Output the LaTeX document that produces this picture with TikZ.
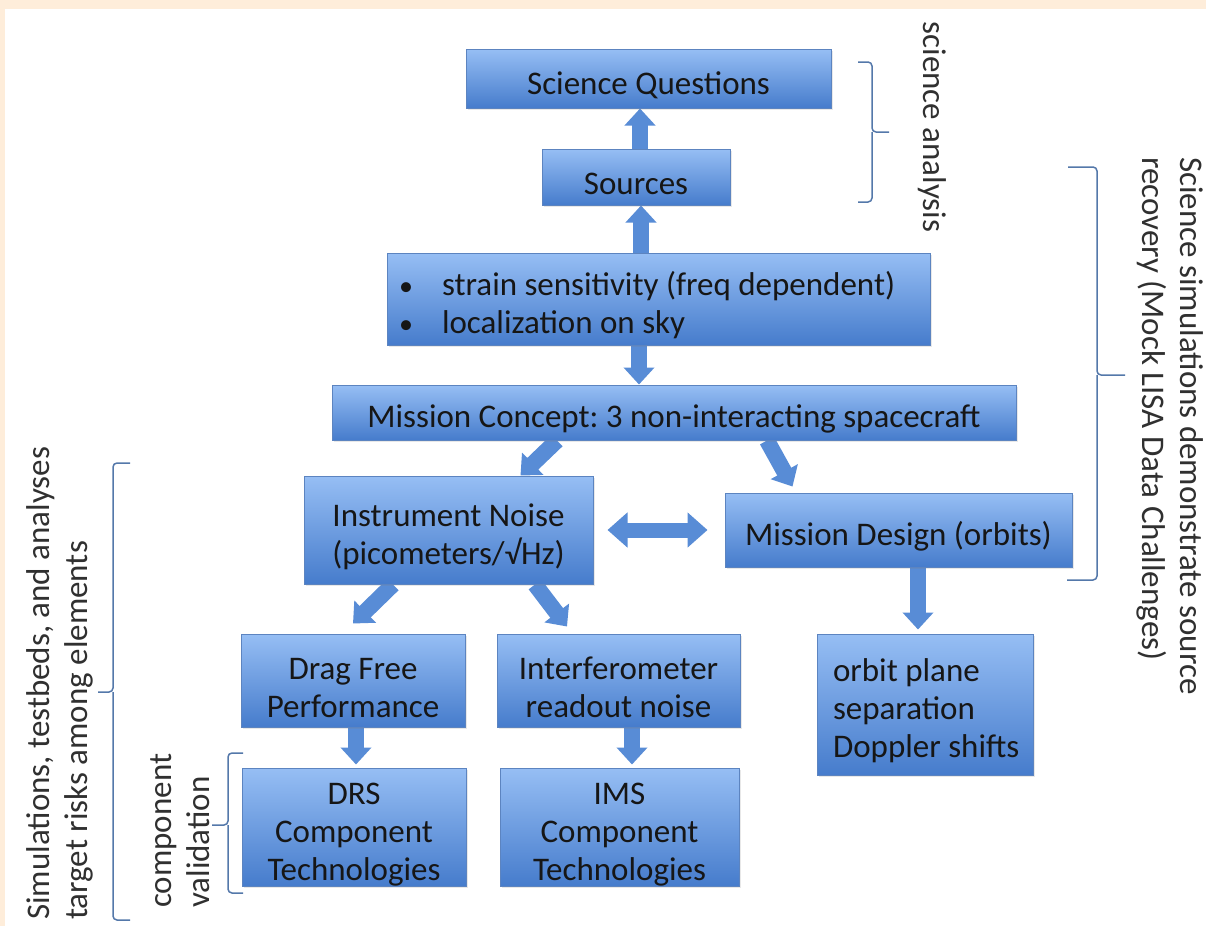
\documentclass[tikz,border=0pt]{standalone}
\usepackage{fontspec}
\setmainfont{Carlito}
\usetikzlibrary{arrows.meta,shadows}
\definecolor{beige}{RGB}{254,237,218}
\definecolor{boxtop}{RGB}{150,190,244}
\definecolor{boxbot}{RGB}{70,124,204}
\definecolor{boxedge}{RGB}{92,132,192}
\definecolor{arrblue}{RGB}{88,140,214}
\definecolor{brkcol}{RGB}{84,120,170}
\definecolor{txt}{RGB}{22,22,22}
\definecolor{sidetxt}{RGB}{48,48,48}
\pgfdeclarelayer{bg}
\pgfsetlayers{bg,main}
\newcommand{\nsp}{\spaceskip=0pt\xspaceskip=0pt\relax}
\newcommand{\dn}{\rule{0pt}{36pt}}
\newcommand{\bul}{\makebox[43pt][l]{\scalebox{0.85}{\textbullet}}}
\frenchspacing
\begin{document}
\begin{tikzpicture}[x=1pt,y=-1pt,
  box/.style={draw=boxedge, line width=1pt, top color=boxtop, bottom color=boxbot,
    text=txt, font=\fontsize{33}{38}\selectfont, align=center, inner sep=0pt,
    drop shadow={opacity=0.18, shadow xshift=1.5pt, shadow yshift=-1.5pt}},
  barrow/.style={arrblue, line width=16pt, -{Triangle[width=30pt,length=17pt]}},
  dbarrow/.style={arrblue, line width=15pt, {Triangle[width=34pt,length=20pt]}-{Triangle[width=34pt,length=20pt]}},
  brk/.style={brkcol, line width=1.5pt, rounded corners=4pt},
  side/.style={text=sidetxt, font=\fontsize{33}{38}\selectfont, inner sep=0pt, align=left}]
\useasboundingbox (0,0) rectangle (1206,926);
\begin{pgfonlayer}{bg}
\fill[white] (0,0) rectangle (1206,926);
\fill[beige] (0,0) rectangle (1206,9);
\fill[beige] (0,0) rectangle (5,926);
\end{pgfonlayer}

% boxes
\node[box, minimum width=365pt, minimum height=59pt] (sq) at (648.5,78.5) {\nsp\dn Science Questions};
\node[box, minimum width=188pt, minimum height=56pt] (src) at (636,177) {\nsp\dn Sources};
\node[box, text width=519pt, inner xsep=12pt, minimum height=92pt, align=left] (strain) at (658.5,299)
  {\nsp\dn\bul strain sensitivity (freq dependent)\\\bul localization on sky};
\node[box, minimum width=684pt, minimum height=55pt] (mc) at (674,412.5) {\nsp\dn Mission Concept: 3 non-interacting spacecraft};
\node[box, minimum width=289pt, minimum height=108pt] (in) at (448.5,530) {\nsp\dn Instrument Noise\\(picometers/√Hz)};
\node[box, minimum width=347pt, minimum height=74pt] (md) at (898.5,530) {\nsp\dn Mission Design (orbits)};
\node[box, minimum width=224pt, minimum height=93pt] (df) at (353,680.5) {\nsp\dn Drag Free\\Performance};
\node[box, minimum width=243pt, minimum height=93pt] (if) at (618.5,680.5) {\nsp\dn Interferometer\\readout noise};
\node[box, text width=200pt, inner xsep=8pt, minimum height=141pt, align=left] (orb) at (925,704.5) {\nsp\dn\hspace*{8pt}orbit plane\\\hspace*{8pt}separation\\\hspace*{8pt}Doppler shifts};
\node[box, minimum width=224pt, minimum height=118pt] (drs) at (354,827) {\nsp\dn DRS\\Component\\Technologies};
\node[box, minimum width=239pt, minimum height=118pt] (ims) at (619.5,827) {\nsp\dn IMS\\Component\\Technologies};

% arrows
\begin{pgfonlayer}{bg}
\draw[barrow] ([xshift=4pt]src.north) -- ([xshift=-8.5pt]sq.south);
\draw[barrow] ([xshift=-17.5pt]strain.north) -- ([xshift=5pt]src.south);
\draw[barrow] ([xshift=-19.5pt]strain.south) -- ([xshift=-35pt]mc.north);
\draw[barrow] ([xshift=-117pt]mc.south) -- ([xshift=72pt]in.north);
\draw[barrow] ([xshift=93pt]mc.south) -- ([xshift=-106pt,yshift=6pt]md.north);
\draw[dbarrow] ([xshift=14pt]in.east) -- ([xshift=-17pt]md.west);
\draw[barrow] ([xshift=-55.5pt]in.south) -- ([yshift=10pt]df.north);
\draw[barrow] ([xshift=86.5pt]in.south) -- ([xshift=-51.5pt,yshift=7pt]if.north);
\draw[barrow] ([xshift=3pt]df.south) -- ([xshift=2pt,yshift=3pt]drs.north);
\draw[barrow] ([xshift=13.5pt]if.south) -- ([xshift=12.5pt,yshift=3pt]ims.north);
\draw[barrow] ([xshift=19.5pt]md.south) -- ([xshift=-7pt,yshift=4pt]orb.north);
\end{pgfonlayer}

% brackets
\draw[brk] (858,62) -- (872,62) -- (872,132) -- (889,132);
\draw[brk] (872,132) -- (872,202) -- (858,202);
\draw[brk] (1068,167) -- (1097,167) -- (1097,375) -- (1125,375);
\draw[brk] (1097,375) -- (1097,580) -- (1067,580);
\draw[brk] (130,463) -- (113,463) -- (113,692) -- (98,692);
\draw[brk] (113,692) -- (113,920) -- (130,920);
\draw[brk] (243,753) -- (228,753) -- (228,825) -- (212,825);
\draw[brk] (228,825) -- (228,893) -- (243,893);

% side labels
\node[side, rotate=-90] (lsa) at (932,127) {\nsp science analysis};
\node[side, rotate=-90, anchor=west] (lss) at (1170,157) {\nsp Science simulations demonstrate source\\recovery (Mock LISA Data Challenges)};
\node[side, rotate=90, anchor=west] (lst) at (60,920) {\nsp Simulations, testbeds, and analyses\\target risks among elements};
\node[side, rotate=90, anchor=west] (lcv) at (180,908) {\nsp component\\validation};
\end{tikzpicture}
\end{document}
